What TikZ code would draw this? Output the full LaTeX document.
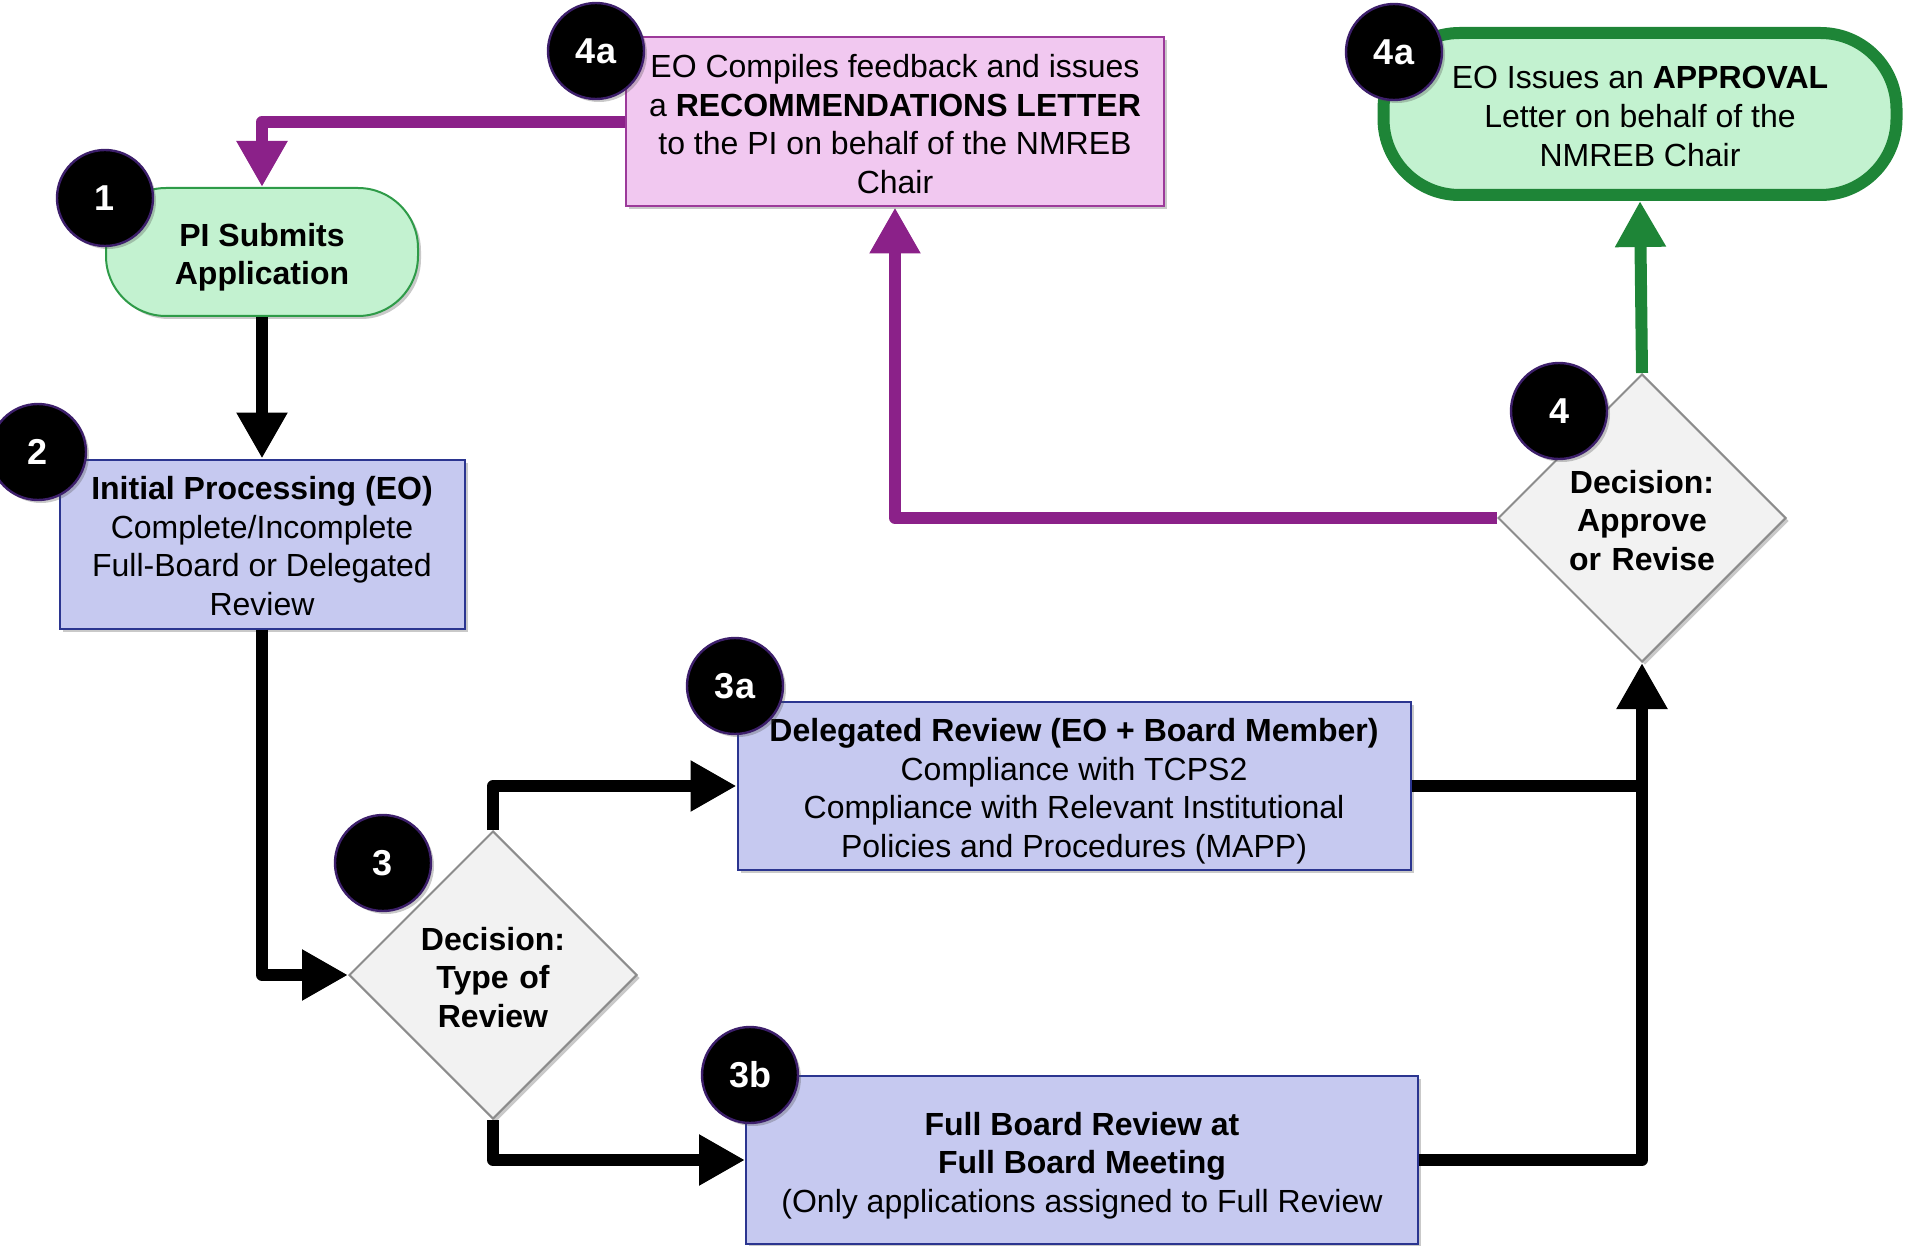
\documentclass[tikz,border=0pt]{standalone}
\usepackage{fontspec}
\setmainfont{Liberation Sans}
\usetikzlibrary{arrows.meta,shapes.geometric,shadows}

\definecolor{mint}{HTML}{C3F2D0}
\definecolor{leaf}{HTML}{1E8537}
\definecolor{pilleaf}{HTML}{2E9B48}
\definecolor{lilac}{HTML}{F1C8F0}
\definecolor{lilacrim}{HTML}{9C3A9A}
\definecolor{plum}{HTML}{8B2189}
\definecolor{periwinkle}{HTML}{C6C9F0}
\definecolor{inkblue}{HTML}{2B3590}
\definecolor{paper}{HTML}{F2F2F2}
\definecolor{diamrim}{HTML}{8C8C8C}
\definecolor{dotrim}{HTML}{3D1F6B}

% struts so every block of lines sits like the slide text
\newcommand{\boxtop}{\rule{0pt}{17pt}}
\newcommand{\diatop}{\rule{0pt}{17pt}}

\tikzset{
	stepfont/.style={font=\fontsize{16}{19.3}\selectfont},
	lastline/.style={execute at end node={\rule[-3.4pt]{0pt}{3.4pt}}},
	softshadow/.style={drop shadow={shadow xshift=1.5pt, shadow yshift=-1.5pt, opacity=0.3, fill=black!70}},
	bluebox/.style={rectangle, draw=inkblue, line width=1pt, fill=periwinkle, align=center, inner sep=0pt, stepfont, lastline, softshadow},
	pinkbox/.style={rectangle, draw=lilacrim, line width=1pt, fill=lilac, align=center, inner sep=0pt, stepfont, lastline, softshadow},
	pill/.style={rectangle, rounded corners=30pt, draw=pilleaf, line width=1pt, fill=mint, align=center, inner sep=0pt, stepfont, lastline, softshadow},
	decision/.style={diamond, aspect=1, draw=diamrim, line width=1pt, fill=paper, align=center, text width=80pt, inner sep=0pt, minimum width=144pt, minimum height=144pt, font=\fontsize{16}{19.3}\selectfont\bfseries, lastline, softshadow},
	numdot/.style={circle, fill=black, draw=dotrim, line width=1.2pt, minimum size=48pt, inner sep=0pt, text=white, font=\fontsize{18}{18}\selectfont\bfseries, softshadow},
	flow/.style={line width=6pt, line join=round, -{Triangle[width=24pt,length=23pt]}},
}

\begin{document}
\begin{tikzpicture}[x=1pt,y=-1pt]
	\clip (0,0) rectangle (953.5,623);

	% boxes
	\node[pinkbox, minimum width=269pt, minimum height=84.5pt] (recs) at (447.5,61)
		{\boxtop EO Compiles feedback and issues\\a \textbf{RECOMMENDATIONS LETTER}\\to the PI on behalf of the NMREB\\Chair};
	\node[pill, rounded corners=38pt, draw=leaf, line width=6pt, minimum width=256.5pt, minimum height=81pt] (approve) at (820,57)
		{\boxtop EO Issues an \textbf{APPROVAL}\\Letter on behalf of the\\NMREB Chair};
	\node[pill, minimum width=156pt, minimum height=64pt, font=\fontsize{16}{19.3}\selectfont\bfseries] (submit) at (131,126)
		{\boxtop PI Submits\\Application};
	\node[bluebox, minimum width=202.5pt, minimum height=84.5pt] (initial) at (131,272)
		{\boxtop\textbf{Initial Processing (EO)}\\Complete/Incomplete\\Full-Board or Delegated\\Review};
	\node[decision] (dec3) at (246.5,487.5) {\diatop Decision:\\Type of\\Review};
	\node[bluebox, minimum width=336.5pt, minimum height=84pt] (deleg) at (537,393)
		{\boxtop\textbf{Delegated Review (EO + Board Member)}\\Compliance with TCPS2\\Compliance with Relevant Institutional\\Policies and Procedures (MAPP)};
	\node[bluebox, minimum width=336pt, minimum height=84pt] (full) at (541,580)
		{\boxtop\textbf{Full Board Review at}\\\textbf{Full Board Meeting}\\(Only applications assigned to Full Review};
	\node[decision] (dec4) at (821,259) {\diatop Decision:\\Approve\\or Revise};

	% connectors
	\draw[flow] (submit.south) -- (initial.north);
	\draw[flow] (initial.south) |- (dec3.west);
	\draw[flow] (dec3.north) |- (deleg.west);
	\draw[flow] (dec3.south) |- (full.west);
	\draw[flow, -] (deleg.east) -- (deleg.east -| dec4.south);
	\draw[flow] (full.east) -| (dec4.south);
	\draw[flow, leaf] (dec4.north) -- (approve.south);
	\draw[flow, plum] (dec4.west) -| (recs.south);
	\draw[flow, plum] (recs.west) -| (submit.north);

	% step numbers
	\node[numdot] (n4l) at (298,25.5) {4a};
	\node[numdot] (n4r) at (697,26) {4a};
	\node[numdot] (n1) at (52.5,99) {1};
	\node[numdot] (n2) at (19,226) {2};
	\node[numdot] (n3) at (191.5,431.5) {3};
	\node[numdot] (n3a) at (367.5,343) {3a};
	\node[numdot] (n3b) at (375,537.5) {3b};
	\node[numdot] (n4) at (779.5,205.5) {4};
\end{tikzpicture}
\end{document}
